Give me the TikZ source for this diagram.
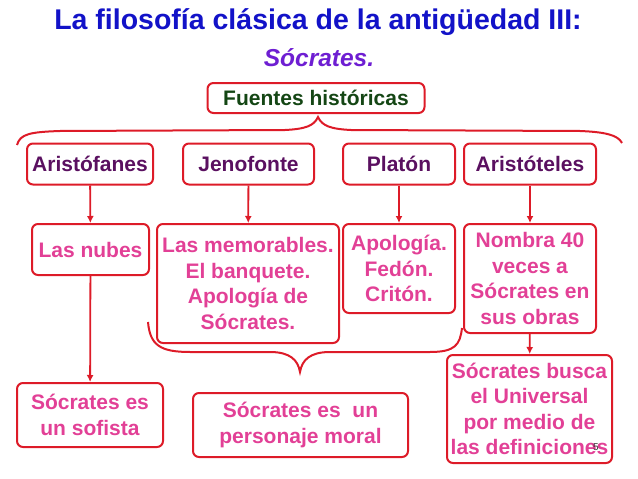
\documentclass[tikz,border=0pt]{standalone}
\usepackage{fontspec}
\setmainfont{Liberation Sans}
\usepackage{tikz}
\usetikzlibrary{arrows,arrows.meta}
\usetikzlibrary{positioning}

\definecolor{boxred}{RGB}{221,27,40}
\definecolor{namepurple}{RGB}{90,16,96}
\definecolor{workpink}{RGB}{226,64,150}
\definecolor{titleblue}{RGB}{18,18,200}
\definecolor{subviolet}{RGB}{110,30,210}
\definecolor{srcgreen}{RGB}{20,70,20}

\tikzset{
  caja/.style={draw=boxred, line width=2pt, rounded corners=6pt, align=center,
    inner sep=1pt, font=\fontsize{21}{25.5}\selectfont\bfseries},
  autor/.style={caja, text=namepurple},
  obra/.style={caja, text=workpink},
  flecha/.style={draw=boxred, line width=1.8pt, -{Latex[length=7pt,width=7pt]}},
  llave/.style={draw=boxred, line width=2pt}
}

\begin{document}
\begin{tikzpicture}[x=1pt,y=-1pt]
  \useasboundingbox (0,0) rectangle (638,479);
  % titulo
  \node[text=titleblue, font=\fontsize{28.5}{32}\selectfont\bfseries] (titulo) at (318,22)
    {La filosofía clásica de la antigüedad III:};
  \node[text=subviolet, font=\fontsize{24.5}{28}\selectfont\bfseries\itshape] (socrates) at (319,58)
    {Sócrates.};
  \node[caja, text=srcgreen, minimum width=217pt, minimum height=30pt] (fuentes) at (316,98)
    {Fuentes históricas};

  % llave superior
  \draw[llave] (17,145) .. controls (20,134) and (30,132) .. (60,131) -- (285,130)
    .. controls (305,129) and (314,126) .. (318,117)
    .. controls (322,126) and (331,129) .. (351,130) -- (580,131)
    .. controls (605,132) and (618,135) .. (622,143);

  % autores
  \node[autor, minimum width=126pt, minimum height=41pt] (aristofanes) at (90,164) {Aristófanes};
  \node[autor, minimum width=131pt, minimum height=41pt] (jenofonte) at (248.5,164) {Jenofonte};
  \node[autor, minimum width=112pt, minimum height=41pt] (platon) at (399,164) {Platón};
  \node[autor, minimum width=132pt, minimum height=41pt] (aristoteles) at (530,164) {Aristóteles};

  % obras
  \node[obra, minimum width=117pt, minimum height=51pt] (nubes) at (90.5,249.5) {Las nubes};
  \node[obra, minimum width=182pt, minimum height=119pt] (memorables) at (248,283.5)
    {Las memorables.\\El banquete.\\Apología de\\Sócrates.};
  \node[obra, minimum width=112pt, minimum height=89pt] (apologia) at (399,268.5)
    {Apología.\\Fedón.\\Critón.};
  \node[obra, minimum width=132pt, minimum height=109pt] (nombra) at (530,278.5)
    {Nombra 40\\veces a\\Sócrates en\\sus obras};

  % conclusiones
  \node[obra, minimum width=146pt, minimum height=64pt] (sofista) at (90,415)
    {Sócrates es\\un sofista};
  \node[obra, minimum width=215pt, minimum height=64pt] (moral) at (300.5,425)
    {Sócrates es~~un\\personaje moral};
  \node[obra, minimum width=165pt, minimum height=108pt] (busca) at (529.5,409)
    {Sócrates busca\\el Universal\\por medio de\\las definiciones};

  % flechas
  \draw[flecha] (aristofanes) -- (nubes);
  \draw[flecha] (jenofonte) -- (memorables);
  \draw[flecha] (platon) -- (apologia);
  \draw[flecha] (aristoteles) -- (nombra);
  \draw[flecha] (nubes) -- (sofista);
  \draw[flecha] (nombra) -- (busca);

  % llave inferior
  \draw[llave] (148,322) .. controls (150,345) and (160,352) .. (190,352) -- (270,352)
    .. controls (290,352) and (298,360) .. (300,372)
    .. controls (302,360) and (310,352) .. (330,352) -- (430,352)
    .. controls (455,352) and (460,345) .. (462,328);

  \node[text=black!80, font=\fontsize{10}{12}\selectfont] (pagina) at (596,447) {5};
\end{tikzpicture}
\end{document}
